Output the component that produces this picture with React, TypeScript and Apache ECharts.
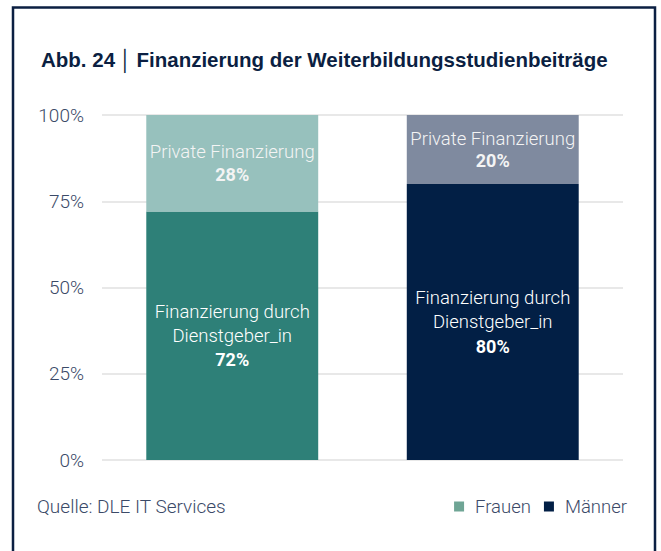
import React, { useEffect, useRef } from "react";
import * as echarts from "echarts";

const categories = ["Frauen", "Männer"];
const dienstgeber = [72, 80];
const privat = [28, 20];
const yTicks = [0, 25, 50, 75, 100];
const colorsDark = ["#2e8078", "#021f45"];
const colorsLight = ["#97c1bd", "#7f8a9f"];
const legendColors = ["#6fa595", "#021f45"];

export default function App() {
  const ref = useRef<HTMLDivElement>(null);
  useEffect(() => {
    document.body.style.margin = "0";
    const chart = echarts.init(ref.current!, null, { renderer: "svg" });
    const font = "Roboto, 'Liberation Sans', sans-serif";
    const tfont = "'Liberation Sans', Arial, sans-serif";
    const series: any[] = [];
    categories.forEach((cat, i) => {
      const d1 = categories.map((_, j) => (j === i ? dienstgeber[i] : "-"));
      const d2 = categories.map((_, j) => (j === i ? privat[i] : "-"));
      series.push({
        name: cat,
        type: "bar",
        stack: "total",
        barWidth: "66%",
        data: d1,
        itemStyle: { color: colorsDark[i] },
        label: {
          show: true,
          position: "inside",
          formatter: (p: any) => `{t|Finanzierung durch}\n{t|Dienstgeber_in}\n{b|${p.value}%}`,
          rich: {
            t: { color: "#ffffff", fontSize: 18.5, fontWeight: 300, fontFamily: font, lineHeight: 24 },
            b: { color: "#ffffff", fontSize: 18, fontWeight: "bold", fontFamily: font, lineHeight: 24 },
          },
        },
      });
      series.push({
        name: cat,
        type: "bar",
        stack: "total",
        barWidth: "66%",
        data: d2,
        itemStyle: { color: colorsLight[i] },
        label: {
          show: true,
          position: "inside",
          formatter: (p: any) => `{t|Private Finanzierung}\n{b|${p.value}%}`,
          rich: {
            t: { color: "#f4f4f4", fontSize: 18.5, fontWeight: 300, fontFamily: font, lineHeight: 22 },
            b: { color: "#f4f4f4", fontSize: 18, fontWeight: "bold", fontFamily: font, lineHeight: 22 },
          },
        },
      });
    });
    chart.setOption({
      animation: false,
      backgroundColor: "#ffffff",
      textStyle: { fontFamily: font },
      title: {
        left: 36,
        top: 44,
        text: "{b|Abb. 24} {s|│} {b|Finanzierung der Weiterbildungsstudienbeiträge}",
        textStyle: {
          rich: {
            b: { fontSize: 20.5, fontWeight: "bold", color: "#0b1f42", fontFamily: tfont },
            s: { fontSize: 20, fontWeight: 300, color: "#0b1f42", fontFamily: font },
          },
        },
      },
      grid: { left: 102, right: 38, top: 115, bottom: 91 },
      xAxis: {
        type: "category",
        data: categories,
        axisLine: { show: false },
        axisTick: { show: false },
        axisLabel: { show: false },
      },
      yAxis: {
        type: "value",
        min: yTicks[0],
        max: yTicks[yTicks.length - 1],
        interval: 25,
        axisLine: { show: false },
        axisTick: { show: false },
        axisLabel: {
          formatter: "{value}%",
          fontSize: 19,
          fontWeight: 300,
          color: "#3b4a68",
          margin: 18,
          fontFamily: font,
        },
        splitLine: { lineStyle: { color: "#e8e8e8", width: 2 } },
      },
      legend: {
        right: 29,
        top: 492,
        icon: "rect",
        itemWidth: 10,
        itemHeight: 10,
        itemGap: 13,
        textStyle: { fontSize: 18.5, fontWeight: 300, color: "#3b4a68", fontFamily: font, padding: [0, 0, 0, 6] },
        data: categories.map((c, i) => ({ name: c, itemStyle: { color: legendColors[i] } })),
        selectedMode: false,
      },
      graphic: [
        {
          type: "polyline",
          shape: { points: [[13, 551], [13, 7.5], [655, 7.5], [655, 551]] },
          style: { stroke: "#0b1f42", lineWidth: 2.5, fill: "none" },
        },
        {
          type: "text",
          left: 37,
          top: 497,
          style: { text: "Quelle: DLE IT Services", fontSize: 19, fontWeight: 300, fill: "#3b4a68", fontFamily: font },
        },
      ],
      series,
    });
    return () => chart.dispose();
  }, []);
  return <div ref={ref} style={{ width: 661, height: 551 }} />;
}
